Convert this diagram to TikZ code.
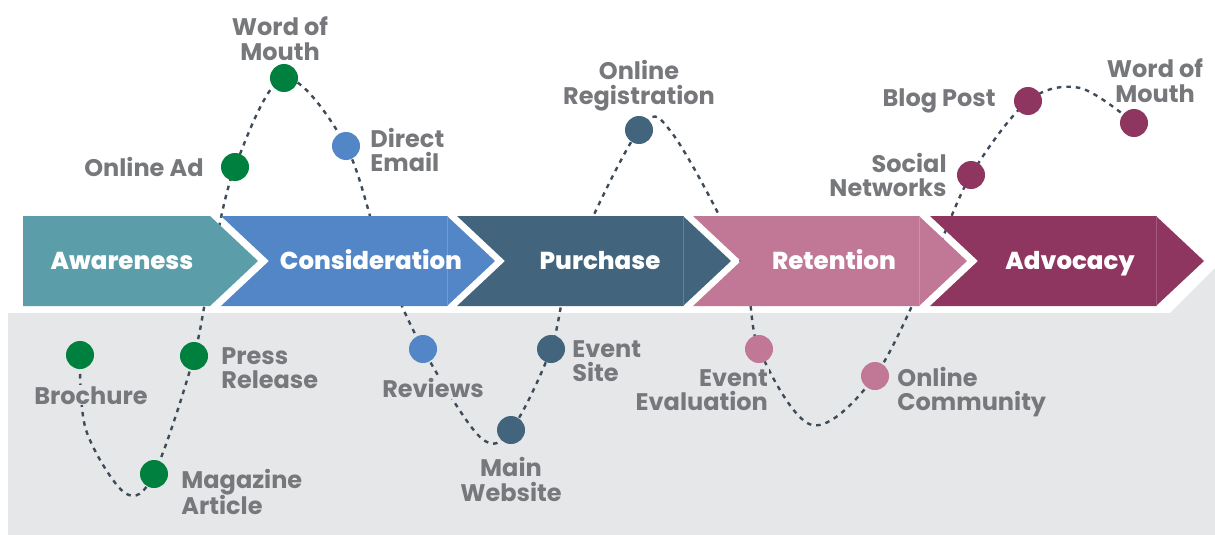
\documentclass[tikz,border=0pt]{standalone}
\usepackage{fontspec}
\setsansfont{Poppins}
\newfontfamily\tagfont{Poppins Bold}
\newfontfamily\stagefont{Poppins ExtraBold}
\usepackage{xcolor}
\definecolor{jaware}{HTML}{5B9EAA}
\definecolor{jconsider}{HTML}{5286C6}
\definecolor{jpurchase}{HTML}{42657D}
\definecolor{jretain}{HTML}{C17897}
\definecolor{jadvocate}{HTML}{8E3560}
\definecolor{jgreen}{HTML}{00803E}
\definecolor{jline}{HTML}{3E4B58}
\definecolor{jgray}{HTML}{77787B}
\definecolor{jbg}{HTML}{E6E7E9}
\usepackage{tikz}
\usetikzlibrary{positioning}
\pgfdeclarelayer{back}
\pgfdeclarelayer{trailbed}
\pgfsetlayers{back,trailbed,main}
\tikzset{
  every picture/.style={line join=round},
  tag/.style={font=\tagfont\fontsize{24}{24.5}\selectfont, text=jgray, inner sep=1pt, align=center},
  lowtag/.style={tag, fill=jbg},
  dot/.style={circle, minimum size=28pt, inner sep=0pt},
  trail/.style={jline, line width=2.4pt, dash pattern=on 4.5pt off 5pt},
  stagetxt/.style={font=\stagefont\fontsize{24.5}{26}\selectfont, text=white, anchor=base},
}

\begin{document}
\begin{tikzpicture}[x=1pt, y=-1pt]
\useasboundingbox (0,0) rectangle (1215,535);
\begin{pgfonlayer}{back}
\fill[jbg] (8,313) -- (1170,313) -- (1215,268) -- (1215,535) -- (8,535) -- cycle;
\end{pgfonlayer}
% stages
\fill[jaware] (23,216) -- (210,216) -- (258,261) -- (210,306) -- (23,306) -- cycle;
\node[stagetxt] (st-Awareness) at (122,269) {Awareness};
\foreach \l/\r/\col/\tx/\txt in {221/447/jconsider/371/Consideration, 457/683/jpurchase/600/Purchase,
    693/919/jretain/834/Retention, 930/1156/jadvocate/1070/Advocacy}{
  \fill[\col] (\l,216) -- (\r,216) -- (\r+48,261) -- (\r,306) -- (\l,306) -- (\l+48,261) -- cycle;
  \draw[\col!82!white, line width=0.6pt] (\r,216) -- (\r,306);
  \node[stagetxt] (st-\txt) at (\tx,269) {\txt};
}
% touchpoints
\node[dot, fill=jgreen] (brochure) at (80,355) {};
\node[dot, fill=jgreen] (magazine) at (154,474) {};
\node[dot, fill=jgreen] (press) at (194,356) {};
\node[dot, fill=jgreen] (onlinead) at (235,167) {};
\node[dot, fill=jgreen] (mouthA) at (284,78) {};
\node[dot, fill=jconsider] (direct) at (346,146) {};
\node[dot, fill=jconsider] (reviews) at (423,349) {};
\node[dot, fill=jpurchase] (mainweb) at (511,430) {};
\node[dot, fill=jpurchase] (eventsite) at (551,349) {};
\node[dot, fill=jpurchase] (onlinereg) at (639,130) {};
\node[dot, fill=jretain] (evaluation) at (759,349) {};
\node[dot, fill=jretain] (community) at (875,376) {};
\node[dot, fill=jadvocate] (social) at (971,175) {};
\node[dot, fill=jadvocate] (blog) at (1028,101) {};
\node[dot, fill=jadvocate] (mouthB) at (1134,123) {};
% bends of the trail
\coordinate (dropA) at (86,430);
\coordinate (dipA) at (125,493);
\coordinate (crossA) at (212,262);
\coordinate (crossB) at (384,262);
\coordinate (dipB) at (480,437);
\coordinate (crossC) at (573,262);
\coordinate (crestC) at (672,133);
\coordinate (crossD) at (741,262);
\coordinate (dipC) at (812,425);
\coordinate (crossE) at (932,262);
\coordinate (crestE) at (1080,88);
% labels
\node[tag, left=16pt of onlinead] (l-onlinead) {Online Ad};
\node[tag, above=2pt of mouthA, xshift=-4pt] (l-mouthA) {Word of\\Mouth};
\node[tag, align=left, right=9pt of direct, yshift=-4pt] (l-direct) {Direct\\Email};
\node[tag, above=4pt of onlinereg] (l-onlinereg) {Online\\Registration};
\node[tag, left=17pt of blog] (l-blog) {Blog Post};
\node[tag, align=right, left=9pt of social] (l-social) {Social\\Networks};
\node[tag, above=5pt of mouthB, xshift=21pt] (l-mouthB) {Word of\\Mouth};
\node[lowtag, below=16pt of brochure, xshift=11pt] (l-brochure) {Brochure};
\node[lowtag, align=left, right=12pt of press, yshift=-12pt] (l-press) {Press\\Release};
\node[lowtag, align=left, right=12pt of magazine, yshift=-18pt] (l-magazine) {Magazine\\Article};
\node[lowtag, below=14pt of reviews, xshift=10pt] (l-reviews) {Reviews};
\node[lowtag, below=12pt of mainweb] (l-mainweb) {Main\\Website};
\node[lowtag, align=left, right=6pt of eventsite, yshift=-12pt] (l-eventsite) {Event\\Site};
\node[lowtag, align=right, below=9pt of evaluation.south east, anchor=north east] (l-evaluation) {Event\\Evaluation};
\node[lowtag, align=left, right=7pt of community, yshift=-16pt] (l-community) {Online\\Community};
% dashed journey
\begin{pgfonlayer}{trailbed}
\draw[trail] plot[smooth, tension=0.55] coordinates {(brochure) (dropA) (dipA) (magazine) (press) (crossA)
  (onlinead) (mouthA) (direct) (crossB) (reviews) (dipB) (mainweb) (eventsite) (crossC) (onlinereg)
  (crestC) (crossD) (evaluation) (dipC) (community) (crossE) (social) (blog) (crestE) (mouthB)};
\end{pgfonlayer}
\end{tikzpicture}
\end{document}
